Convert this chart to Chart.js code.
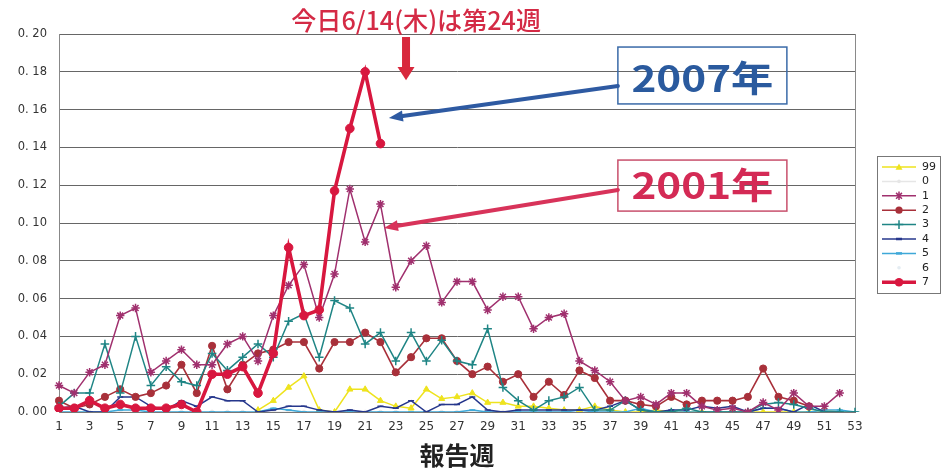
<!DOCTYPE html>
<html><head><meta charset="utf-8">
<script src="https://cdn.jsdelivr.net/npm/chart.js@4/dist/chart.umd.min.js"></script>
<style>html,body{margin:0;padding:0;background:#fff;}#wrap{width:944px;height:472px;}</style>
</head><body><div id="wrap"><canvas id="c" width="944" height="472"></canvas></div>
<script>
const weeks = ['1','2','3','4','5','6','7','8','9','10','11','12','13','14','15','16','17','18','19','20','21','22','23','24','25','26','27','28','29','30','31','32','33','34','35','36','37','38','39','40','41','42','43','44','45','46','47','48','49','50','51','52','53'];
const seriesNames = ['99','0','1','2','3','4','5','6','7'];
const yTicks = [0,0.02,0.04,0.06,0.08,0.10,0.12,0.14,0.16,0.18,0.20];

const s99 = [null,null,null,null,null,null,null,null,null,null,null,null,null,0.001,0.006,0.013,0.019,0.001,0.000,0.012,0.012,0.006,0.003,0.002,0.012,0.007,0.008,0.010,0.005,0.005,0.003,0.003,0.002,0.001,0.001,0.003,0.001,0.000,0.000,0.001,0.000,0.000,0.000,0.000,0.000,0.000,0.000,0.000,0.000,0.000,0.001,0.000,null];
const s0 = [0,0,0,0,0,0,0,0,0,0,0,0,0,0,0,0,0,0,0,0,0,0,0,0,0,0,0,0,0,0,0,0,0,0,0,0,0,0,0,0,0,0,0,0,0,0,0,0,0,0,0,0,null];
const s1 = [0.014,0.010,0.021,0.025,0.051,0.055,0.021,0.027,0.033,0.025,0.025,0.036,0.040,0.027,0.051,0.067,0.078,0.050,0.073,0.118,0.090,0.110,0.066,0.080,0.088,0.058,0.069,0.069,0.054,0.061,0.061,0.044,0.050,0.052,0.027,0.022,0.016,0.006,0.008,0.004,0.010,0.010,0.003,0.001,0.002,0.000,0.005,0.001,0.010,0.003,0.003,0.010,null];
const s2 = [0.006,0.002,0.004,0.008,0.012,0.008,0.010,0.014,0.025,0.010,0.035,0.012,0.025,0.031,0.033,0.037,0.037,0.023,0.037,0.037,0.042,0.037,0.021,0.029,0.039,0.039,0.027,0.020,0.024,0.016,0.020,0.008,0.016,0.009,0.022,0.018,0.006,0.006,0.004,0.003,0.008,0.004,0.006,0.006,0.006,0.008,0.023,0.008,0.006,0.003,null,null,null];
const s3 = [0.003,0.010,0.010,0.036,0.010,0.040,0.014,0.024,0.016,0.014,0.031,0.022,0.029,0.036,0.029,0.048,0.052,0.029,0.059,0.055,0.036,0.042,0.027,0.042,0.027,0.038,0.027,0.025,0.044,0.013,0.006,0.001,0.006,0.008,0.013,0.001,0.001,0.006,0.001,0.000,0.000,0.002,0.000,0.000,0.000,0.000,0.004,0.005,0.004,0.002,0.000,0.000,0.000];
const s4 = [0.002,0.003,0.000,0.000,0.008,0.008,0.003,0.001,0.006,0.003,0.008,0.006,0.006,0.000,0.001,0.003,0.003,0.001,0.000,0.001,0.000,0.003,0.002,0.006,0.000,0.004,0.004,0.008,0.001,0.000,0.001,0.001,0.001,0.001,0.001,0.001,0.003,0.006,0.001,0.000,0.001,0.001,0.003,0.002,0.003,0.000,0.002,0.002,0.000,0.004,0.000,0.000,null];
const s5 = [0.000,0.000,0.000,0.000,0.001,0.001,0.000,0.000,0.000,0.000,0.000,0.000,0.000,0.000,0.002,0.001,0.000,0.000,0.000,0.000,0.000,0.000,0.000,0.000,0.000,0.000,0.000,0.001,0.000,0.000,0.000,0.000,0.000,0.000,0.001,0.000,0.000,0.000,0.002,0.000,0.000,0.000,0.000,0.000,0.000,0.000,0.002,0.002,0.000,0.000,0.001,0.001,0.000];
const s6 = [null,null,null,null,null,null,0,0,0,0,0,0,null,null,null,null,null,null,null,null,null,null,null,null,null,null,null,null,null,null,null,null,null,null,null,null,null,null,null,null,null,null,null,null,null,null,null,null,null,null,null,null,null];
const s7 = [0.002,0.002,0.006,0.002,0.004,0.002,0.002,0.002,0.004,0.000,0.020,0.020,0.024,0.010,0.031,0.087,0.051,0.054,0.117,0.150,0.180,0.142,null,null,null,null,null,null,null,null,null,null,null,null,null,null,null,null,null,null,null,null,null,null,null,null,null,null,null,null,null,null,null];

const styles = {
  '99': {color:'#eee31e', style:'triangle', r:3.5, lw:1.5, line:true},
  '0':  {color:'#e6e6e6', style:'circle', r:1.8, lw:1, line:true},
  '1':  {color:'#a0306e', style:'star', r:4.2, lw:1.5, line:true},
  '2':  {color:'#a8303a', style:'circle', r:3.6, lw:1.6, line:true},
  '3':  {color:'#1f8585', style:'cross', r:4.3, lw:1.5, line:true},
  '4':  {color:'#26378c', style:'line', r:3, lw:1.5, line:true},
  '5':  {color:'#3ea8d8', style:'line', r:3, lw:1.5, line:true},
  '6':  {color:'#e4ecf2', style:'circle', r:1.8, lw:1, line:false},
  '7':  {color:'#d8173f', style:'circle', r:4.3, lw:3.6, line:true}
};
const seriesData = {'99':s99,'0':s0,'1':s1,'2':s2,'3':s3,'4':s4,'5':s5,'6':s6,'7':s7};
const orders = {'7':0,'1':1,'3':2,'2':3,'4':4,'5':5,'99':6,'0':7,'6':8};

const datasets = seriesNames.map(n => {
  const st = styles[n];
  return {
    label: n, data: seriesData[n], order: orders[n],
    borderColor: st.color, backgroundColor: st.color,
    borderWidth: st.lw, showLine: st.line,
    pointStyle: st.style, pointRadius: st.r, pointHoverRadius: st.r,
    pointBorderWidth: st.style==='circle' || st.style==='triangle' ? 1 : 1.5,
    pointBorderColor: st.color, pointBackgroundColor: st.color,
    tension: 0, spanGaps: false
  };
});

function markerPath(ctx, style, x, y, r) {
  ctx.beginPath();
  if (style === 'circle') { ctx.arc(x, y, r, 0, Math.PI*2); ctx.fill(); }
  else if (style === 'triangle') { ctx.moveTo(x, y-r); ctx.lineTo(x+r, y+r*0.8); ctx.lineTo(x-r, y+r*0.8); ctx.closePath(); ctx.fill(); }
  else if (style === 'star') { ctx.moveTo(x-r*0.7,y-r*0.7); ctx.lineTo(x+r*0.7,y+r*0.7); ctx.moveTo(x+r*0.7,y-r*0.7); ctx.lineTo(x-r*0.7,y+r*0.7); ctx.moveTo(x,y-r); ctx.lineTo(x,y+r); ctx.stroke(); }
  else if (style === 'cross') { ctx.moveTo(x,y-r); ctx.lineTo(x,y+r); ctx.moveTo(x-r,y); ctx.lineTo(x+r,y); ctx.stroke(); }
  else if (style === 'line') { ctx.lineWidth = 2.5; ctx.moveTo(x-r,y); ctx.lineTo(x+r,y); ctx.stroke(); }
}

function fitFont(ctx, text, width, weight, family) {
  ctx.font = weight + ' 20px ' + family;
  const w = ctx.measureText(text).width;
  return 20 * width / w;
}

function arrow(ctx, x1, y1, x2, y2, color, lw, headLen, headW) {
  const ang = Math.atan2(y2-y1, x2-x1);
  const bx = x2 - Math.cos(ang)*headLen, by = y2 - Math.sin(ang)*headLen;
  ctx.save();
  ctx.strokeStyle = color; ctx.fillStyle = color; ctx.lineWidth = lw; ctx.lineCap = 'round';
  ctx.beginPath(); ctx.moveTo(x1,y1); ctx.lineTo(bx,by); ctx.stroke();
  ctx.beginPath(); ctx.moveTo(x2,y2);
  ctx.lineTo(bx + Math.sin(ang)*headW/2, by - Math.cos(ang)*headW/2);
  ctx.lineTo(bx - Math.sin(ang)*headW/2, by + Math.cos(ang)*headW/2);
  ctx.closePath(); ctx.fill();
  ctx.restore();
}

const decor = {
  id: 'decor',
  beforeDatasetsDraw(chart) {
    const {ctx, chartArea: a} = chart;
    ctx.save();
    ctx.strokeStyle = '#8a8a8a'; ctx.lineWidth = 1;
    ctx.beginPath(); ctx.moveTo(a.right+0.5, a.top); ctx.lineTo(a.right+0.5, a.bottom); ctx.stroke();
    ctx.restore();
  },
  afterDraw(chart) {
    const {ctx, scales:{x, y}} = chart;
    const px = w => x.left + (w-1)*(x.right-x.left)/(weeks.length-1);
    const py = v => y.getPixelForValue(v);
    const JP = '"Noto Sans CJK JP", sans-serif';
    ctx.save();
    // title note
    const t = '今日6/14(木)は第24週';
    let fs = fitFont(ctx, t, 250, '500', JP);
    ctx.font = '500 ' + fs.toFixed(1) + 'px ' + JP;
    ctx.fillStyle = '#d42a45'; ctx.textAlign = 'center'; ctx.textBaseline = 'middle';
    ctx.fillText(t, px(24.33), py(0.2074));
    // down arrow
    const ax = px(23.67);
    ctx.fillStyle = '#d8283c';
    ctx.fillRect(ax-4, py(0.1984), 8, py(0.1825)-py(0.1984));
    ctx.beginPath(); ctx.moveTo(ax-8.5, py(0.1825)); ctx.lineTo(ax+8.5, py(0.1825)); ctx.lineTo(ax, py(0.1755)); ctx.closePath(); ctx.fill();
    // boxes
    ctx.lineWidth = 1.5;
    ctx.strokeStyle = '#3a6aa8';
    ctx.strokeRect(px(37.51), py(0.1931), px(48.55)-px(37.51), py(0.1630)-py(0.1931));
    ctx.strokeStyle = '#c8506c';
    ctx.strokeRect(px(37.51), py(0.1333), px(48.55)-px(37.51), py(0.1063)-py(0.1333));
    // box texts (slightly condensed like the original)
    fs = 36;
    ctx.font = 'bold ' + fs + 'px ' + JP;
    const tw = ctx.measureText('2007年').width;
    const sx = 142 / tw;
    ctx.textAlign = 'center'; ctx.textBaseline = 'middle';
    ctx.save(); ctx.translate(px(43.03), py(0.1765)); ctx.scale(sx, 1);
    ctx.fillStyle = '#2a5a9e'; ctx.fillText('2007年', 0, 0); ctx.restore();
    ctx.save(); ctx.translate(px(43.03), py(0.1199)); ctx.scale(sx, 1);
    ctx.fillStyle = '#d42a55'; ctx.fillText('2001年', 0, 0); ctx.restore();
    // arrows
    arrow(ctx, px(37.51), py(0.1725), px(22.55), py(0.1556), '#2e5aa2', 4, 14, 11);
    arrow(ctx, px(37.51), py(0.1175), px(22.23), py(0.0974), '#d8335a', 4, 14, 11);
    // legend
    const lx = 877, ly = 156, lw = 63, lh = 137;
    ctx.fillStyle = '#fff'; ctx.fillRect(lx, ly, lw, lh);
    ctx.strokeStyle = '#777'; ctx.lineWidth = 1;
    ctx.strokeRect(lx+0.5, ly+0.5, lw, lh);
    ctx.font = '11px "DejaVu Sans", sans-serif'; ctx.textAlign = 'left'; ctx.textBaseline = 'middle';
    seriesNames.forEach((n, i) => {
      const st = styles[n];
      const yy = ly + 11 + i*14.4;
      ctx.strokeStyle = st.color; ctx.fillStyle = st.color;
      if (st.line) {
        ctx.lineWidth = n==='7' ? 3.6 : 1.5;
        ctx.beginPath(); ctx.moveTo(lx+5, yy); ctx.lineTo(lx+39, yy); ctx.stroke();
      }
      ctx.lineWidth = 1.5;
      markerPath(ctx, st.style, lx+22, yy, st.r);
      ctx.fillStyle = '#222';
      ctx.fillText(n, lx+45, yy);
    });
    ctx.restore();
  }
};

new Chart(document.getElementById('c'), {
  type: 'line',
  data: { labels: weeks, datasets },
  options: {
    responsive: false, animation: false, devicePixelRatio: 1,
    layout: { padding: { top: 34, right: 89, bottom: 0, left: 0 } },
    plugins: { legend: { display: false }, tooltip: { enabled: false } },
    elements: { line: { borderJoinStyle: 'miter' } },
    scales: {
      x: {
        type: 'category', offset: false,
        grid: { display: false, drawTicks: false },
        border: { display: true, color: '#777', width: 1 },
        ticks: { autoSkip: false, maxRotation: 0, minRotation: 0, padding: 8, color: '#333',
          font: { family: '"DejaVu Sans", sans-serif', size: 12 },
          callback: (v, i) => (i % 2 === 0 ? weeks[i] : '') },
        title: { display: true, text: '報告週', color: '#222',
          font: { family: '"Noto Sans CJK JP", sans-serif', size: 25, weight: 'bold' },
          padding: { top: 0, bottom: 2 } },
        afterFit: s => { s.height = 60; }
      },
      y: {
        min: 0, max: 0.2,
        afterBuildTicks: s => { s.ticks = yTicks.map(v => ({ value: v })); },
        grid: { color: '#666', lineWidth: 1, drawTicks: false },
        border: { display: true, color: '#888', width: 1 },
        ticks: { padding: 12, color: '#333',
          font: { family: '"DejaVu Sans", sans-serif', size: 11.5 },
          callback: v => '0. ' + String(Math.round(v * 100)).padStart(2, '0') },
        afterFit: s => { s.width = 59; }
      }
    }
  },
  plugins: [decor]
});
</script></body></html>
